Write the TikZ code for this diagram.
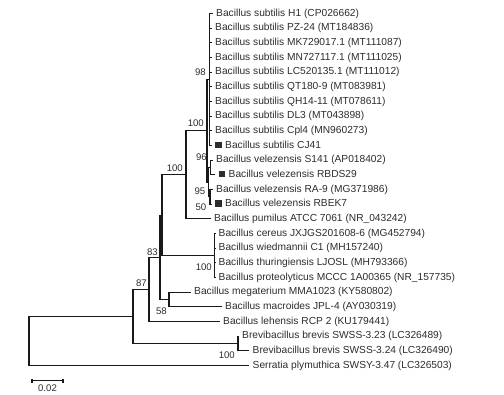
\documentclass[tikz,border=0pt]{standalone}
\usepackage{fontspec}
\setmainfont{Liberation Sans}
\definecolor{ink}{RGB}{25,25,25}
\definecolor{txt}{RGB}{45,45,45}
\newcommand{\mksq}{\rule{6.5pt}{6.5pt}\hspace{3.5pt}}
\begin{document}
\begin{tikzpicture}[x=1pt,y=-1pt,
  branch/.style={draw=ink,line width=1.1pt},
  taxon/.style={anchor=west,inner sep=0pt,xshift=3.5pt,font=\fontsize{10.2}{11}\selectfont,text=txt,text height=7.4pt,text depth=2.2pt},
  boot/.style={anchor=east,inner sep=0pt,font=\fontsize{9.6}{10}\selectfont,text=txt},
  ]
\useasboundingbox (0,0) rectangle (504,395);
\fill[white] (0,0) rectangle (504,395);
% leaf ends
\coordinate (l1) at (212.5,13.5);
\coordinate (l2) at (211.5,28.2);
\coordinate (l3) at (211.5,42.8);
\coordinate (l4) at (211.5,57.5);
\coordinate (l5) at (211.5,72.2);
\coordinate (l6) at (211.5,86.9);
\coordinate (l7) at (211.5,101.5);
\coordinate (l8) at (211.5,116.2);
\coordinate (l9) at (211.5,130.9);
\coordinate (l10) at (211.5,145.5);
\coordinate (l11) at (212.5,160.2);
\coordinate (l12) at (215,174.9);
\coordinate (l13) at (212.5,189.5);
\coordinate (l14) at (211.5,204.2);
\coordinate (l15) at (210.5,218.9);
\coordinate (l16) at (215,233.6);
\coordinate (l17) at (215,248.2);
\coordinate (l18) at (215,262.9);
\coordinate (l19) at (215,277.6);
\coordinate (l20) at (190.5,292.2);
\coordinate (l21) at (221.5,306.9);
\coordinate (l22) at (219.5,321.6);
\coordinate (l23) at (238.5,336.2);
\coordinate (l24) at (249,350.9);
\coordinate (l25) at (249,365.6);
% internal nodes
\coordinate (S) at (209.5,79.5);
\coordinate (V96) at (210.5,167.55);
\coordinate (V50) at (210,196.85);
\coordinate (V95) at (208.5,182.2);
\coordinate (I100) at (207,130.85);
\coordinate (T100) at (186,174.9);
\coordinate (Cer) at (214.5,255.6);
\coordinate (NC) at (162,215.25);
\coordinate (N58) at (169,299.55);
\coordinate (NB) at (160,257.4);
\coordinate (N83) at (149,289.5);
\coordinate (Brev) at (238,343.55);
\coordinate (N87) at (133,316.5);
\coordinate (Root) at (29,341.05);
% branches
\foreach \c in {l1,l2,l3,l4,l5,l6,l7,l8,l9,l10} \draw[branch] (S) |- (\c);
\draw[branch] (V96) |- (l11);
\draw[branch] (V96) |- (l12);
\draw[branch] (V50) |- (l13);
\draw[branch] (V50) |- (l14);
\draw[branch] (V95) |- (V96);
\draw[branch] (V95) |- (V50);
\draw[branch] (I100) |- (S);
\draw[branch] (I100) |- (V95);
\draw[branch] (T100) |- (I100);
\draw[branch] (T100) |- (l15);
\foreach \c in {l16,l17,l18,l19} \draw[branch] (Cer) |- (\c);
\draw[branch] (NC) |- (T100);
\draw[branch] (NC) |- (Cer);
\draw[branch] (N58) |- (l20);
\draw[branch] (N58) |- (l21);
\draw[branch] (NB) |- (NC);
\draw[branch] (NB) |- (N58);
\draw[branch] (N83) |- (NB);
\draw[branch] (N83) |- (l22);
\draw[branch] (Brev) |- (l23);
\draw[branch] (Brev) |- (l24);
\draw[branch] (N87) |- (N83);
\draw[branch] (N87) |- (Brev);
\draw[branch] (Root) |- (N87);
\draw[branch] (Root) |- (l25);
% taxa
\node[taxon] (t1) at (l1) {Bacillus subtilis H1 (CP026662)};
\node[taxon] (t2) at (l2) {Bacillus subtilis PZ-24 (MT184836)};
\node[taxon] (t3) at (l3) {Bacillus subtilis MK729017.1 (MT111087)};
\node[taxon] (t4) at (l4) {Bacillus subtilis MN727117.1 (MT111025)};
\node[taxon] (t5) at (l5) {Bacillus subtilis LC520135.1 (MT111012)};
\node[taxon] (t6) at (l6) {Bacillus subtilis QT180-9 (MT083981)};
\node[taxon] (t7) at (l7) {Bacillus subtilis QH14-11 (MT078611)};
\node[taxon] (t8) at (l8) {Bacillus subtilis DL3 (MT043898)};
\node[taxon] (t9) at (l9) {Bacillus subtilis Cpl4 (MN960273)};
\node[taxon] (t10) at (l10) {\mksq Bacillus subtilis CJ41};
\node[taxon] (t11) at (l11) {Bacillus velezensis S141 (AP018402)};
\node[taxon] (t12) at (l12) {\mksq Bacillus velezensis RBDS29};
\node[taxon] (t13) at (l13) {Bacillus velezensis RA-9 (MG371986)};
\node[taxon] (t14) at (l14) {\mksq Bacillus velezensis RBEK7};
\node[taxon] (t15) at (l15) {Bacillus pumilus ATCC 7061 (NR\_043242)};
\node[taxon] (t16) at (l16) {Bacillus cereus JXJGS201608-6 (MG452794)};
\node[taxon] (t17) at (l17) {Bacillus wiedmannii C1 (MH157240)};
\node[taxon] (t18) at (l18) {Bacillus thuringiensis LJOSL (MH793366)};
\node[taxon] (t19) at (l19) {Bacillus proteolyticus MCCC 1A00365 (NR\_157735)};
\node[taxon] (t20) at (l20) {Bacillus megaterium MMA1023 (KY580802)};
\node[taxon] (t21) at (l21) {Bacillus macroides JPL-4 (AY030319)};
\node[taxon] (t22) at (l22) {Bacillus lehensis RCP 2 (KU179441)};
\node[taxon] (t23) at (l23) {Brevibacillus brevis SWSS-3.23 (LC326489)};
\node[taxon] (t24) at (l24) {Brevibacillus brevis SWSS-3.24 (LC326490)};
\node[taxon] (t25) at (l25) {Serratia plymuthica SWSY-3.47 (LC326503)};
% bootstrap values
\node[boot] (b98) at (206,72) {98};
\node[boot] (b100a) at (204,123) {100};
\node[boot] (b96) at (207,157) {96};
\node[boot] (b95) at (205.5,191) {95};
\node[boot] (b50) at (206.5,207.5) {50};
\node[boot] (b100b) at (183,168) {100};
\node[boot] (b100c) at (212,267) {100};
\node[boot] (b83) at (158,252) {83};
\node[boot] (b87) at (147,283) {87};
\node[boot] (b58) at (167,311) {58};
\node[boot] (b100d) at (235,355) {100};
% scale bar
\coordinate (sb1) at (32,380.8);
\coordinate (sb2) at (63,380.8);
\draw[branch] (sb1) -- (sb2);
\draw[branch] ([yshift=-2.2pt]sb1) -- ([yshift=2.2pt]sb1);
\draw[branch] ([yshift=-2.2pt]sb2) -- ([yshift=2.2pt]sb2);
\node[inner sep=0pt,font=\fontsize{9.6}{10}\selectfont,text=txt] (sbl) at (47.5,388.5) {0.02};
\end{tikzpicture}
\end{document}
